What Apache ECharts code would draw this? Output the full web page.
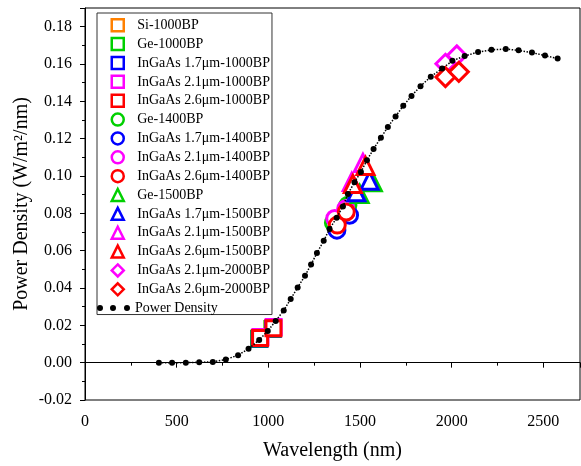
<!DOCTYPE html>
<html><head><meta charset="utf-8">
<script src="https://cdn.jsdelivr.net/npm/echarts@6/dist/echarts.min.js"></script>
<style>html,body{margin:0;padding:0;background:#fff}#c{width:581px;height:466px}</style>
</head><body><div id="c"></div>
<script>
// Power density curve (wavelength nm, W/m2/nm)
const curveX = [403,475,550,623,697,768,835,892,950,997,1040,1084,1122,1160,1200,1233,1265,1302,1334,1373,1407,1434,1470,1505,1538,1574,1614,1652,1694,1736,1781,1830,1886,1948,2004,2071,2144,2217,2295,2365,2438,2509,2578];
const curveY = [0.0000,0.0000,0.0000,0.0002,0.0004,0.0017,0.0040,0.0074,0.0122,0.0170,0.0223,0.0280,0.0341,0.0403,0.0466,0.0526,0.0587,0.0653,0.0716,0.0777,0.0837,0.0904,0.0966,0.1022,0.1084,0.1145,0.1205,0.1263,0.1319,0.1376,0.1429,0.1481,0.1532,0.1576,0.1617,0.1643,0.1664,0.1676,0.1680,0.1673,0.1661,0.1645,0.1629];

// Detector / band-pass points: [wavelength, power density]
const si1000    = [[951,0.0128],[1023,0.0181]];
const ge1000    = [[950,0.0127],[1023,0.0180]];
const in17_1000 = [[953,0.0130],[1026,0.0183]];
const in21_1000 = [[957,0.0138],[1029,0.0191]];
const in26_1000 = [[955,0.0132],[1028,0.0185]];
const ge1400    = [[1355,0.0750],[1434,0.0843]];
const in17_1400 = [[1374,0.0710],[1443,0.0790]];
const in21_1400 = [[1362,0.0772],[1422,0.0825]];
const in26_1400 = [[1376,0.0737],[1425,0.0807]];
const ge1500    = [[1498,0.0904],[1570,0.0966]];
const in17_1500 = [[1480,0.0913],[1552,0.0975]];
const in21_1500 = [[1455,0.0968],[1516,0.1070]];
const in26_1500 = [[1461,0.0957],[1530,0.1054]];
const in21_2000 = [[1966,0.1601],[2028,0.1646]];
const in26_2000 = [[1966,0.1530],[2039,0.1558]];

// Axis ticks
const xTicks = [0,500,1000,1500,2000,2500];
const yTicks = [-0.02,0.00,0.02,0.04,0.06,0.08,0.10,0.12,0.14,0.16,0.18];

const names = ['Si-1000BP','Ge-1000BP','InGaAs 1.7\u03bcm-1000BP','InGaAs 2.1\u03bcm-1000BP','InGaAs 2.6\u03bcm-1000BP',
  'Ge-1400BP','InGaAs 1.7\u03bcm-1400BP','InGaAs 2.1\u03bcm-1400BP','InGaAs 2.6\u03bcm-1400BP',
  'Ge-1500BP','InGaAs 1.7\u03bcm-1500BP','InGaAs 2.1\u03bcm-1500BP','InGaAs 2.6\u03bcm-1500BP',
  'InGaAs 2.1\u03bcm-2000BP','InGaAs 2.6\u03bcm-2000BP'];
const datasets = [si1000,ge1000,in17_1000,in21_1000,in26_1000,ge1400,in17_1400,in21_1400,in26_1400,ge1500,in17_1500,in21_1500,in26_1500,in21_2000,in26_2000];
const colors = ['#FF8000','#00D000','#0000FF','#FF00FF','#FF0000','#00D000','#0000FF','#FF00FF','#FF0000','#00D000','#0000FF','#FF00FF','#FF0000','#FF00FF','#FF0000'];
const symbols = ['rect','rect','rect','rect','rect','circle','circle','circle','circle','triangle','triangle','triangle','triangle','diamond','diamond'];
const sizes = {rect:15, circle:16, triangle:17, diamond:19};

const FONT = '"Liberation Serif", "Times New Roman", serif';
const series = datasets.map((d,i)=>({
  name: names[i], type:'scatter', data:d,
  symbol: symbols[i], symbolSize: sizes[symbols[i]],
  itemStyle:{color:'#ffffff', borderColor:colors[i], borderWidth:3, opacity:1},
  z: 2
}));
series.push({
  name:'Power Density', type:'line',
  data: curveX.map((x,i)=>[x,curveY[i]]),
  symbol:'circle', symbolSize:6, showSymbol:true,
  itemStyle:{color:'#000'},
  lineStyle:{color:'#000', width:1.5, type:'dotted'},
  z: 5
});

const lblStyle = {fontFamily:FONT, fontSize:16, color:'#000'};
const chart = echarts.init(document.getElementById('c'));
chart.setOption({
  animation:false,
  textStyle:{fontFamily:FONT},
  grid:{left:85, right:1, top:8, bottom:60, show:true, borderColor:'#000', borderWidth:1},
  xAxis:{
    type:'value', min:xTicks[0], max:2700, interval:xTicks[1]-xTicks[0],
    name:'Wavelength (nm)', nameLocation:'middle', nameGap:41,
    nameTextStyle:{fontFamily:FONT, fontSize:20, color:'#000'},
    axisLine:{lineStyle:{color:'#000', width:1}},
    axisTick:{show:true, length:5, lineStyle:{color:'#000'}},
    minorTick:{show:true, splitNumber:2, length:3, lineStyle:{color:'#000'}},
    splitLine:{show:false},
    axisLabel:{fontFamily:FONT, fontSize:16, color:'#000', margin:14, showMaxLabel:false,
      formatter:v=>'{a|'+String(Math.round(v))+'}', rich:{a:lblStyle}}
  },
  yAxis:{
    type:'value', min:yTicks[0], max:0.19, interval:0.02,
    name:'Power Density (W/m\u00b2/nm)', nameLocation:'middle', nameGap:53, nameMoveOverlap:false,
    nameTextStyle:{fontFamily:FONT, fontSize:20, color:'#000'},
    axisLine:{show:true, lineStyle:{color:'#000', width:1}},
    axisTick:{show:true, length:5, lineStyle:{color:'#000'}},
    minorTick:{show:true, splitNumber:2, length:3, lineStyle:{color:'#000'}},
    splitLine:{show:false},
    axisLabel:{fontFamily:FONT, fontSize:16, color:'#000', margin:13, showMaxLabel:false,
      formatter:v=>'{a|'+v.toFixed(2)+'}', rich:{a:lblStyle}}
  },
  legend:[{
    orient:'vertical', left:97, top:13,
    data:names,
    itemWidth:12, itemHeight:12, itemGap:4.36,
    symbolKeepAspect:true,
    padding:[5,2,18,13.5],
    borderColor:'#333', borderWidth:1, backgroundColor:'#fff',
    itemStyle:{borderWidth:2.5},
    textStyle:{fontFamily:FONT, fontSize:14, lineHeight:14, color:'#000', padding:[0,0,0,8.5]}
  },{
    orient:'vertical', left:97, top:301,
    data:[{name:'Power Density', icon:'path://M0,4a3,3 0 1,0 6,0a3,3 0 1,0 -6,0Z M13,4a3,3 0 1,0 6,0a3,3 0 1,0 -6,0Z M27,4a3,3 0 1,0 6,0a3,3 0 1,0 -6,0Z'}],
    itemWidth:33, itemHeight:6, symbolKeepAspect:false,
    padding:0,
    itemStyle:{color:'#000', borderWidth:0},
    textStyle:{fontFamily:FONT, fontSize:14, lineHeight:14, color:'#000'}
  }],
  series: series
});
</script></body></html>
